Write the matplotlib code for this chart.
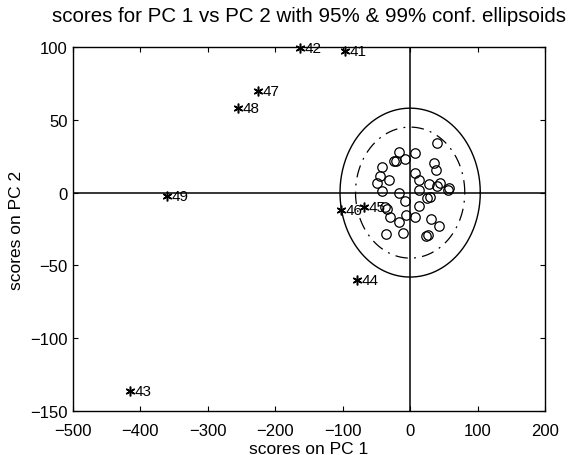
import numpy as np
import matplotlib.pyplot as plt

# PCA scores of the calibration samples (PC1, PC2)
pc1 = [39.5, -16.3, 7.4, -7.0, -23.7, -21.3, 35.6, -42.0, 38.5, 6.8,
       -44.5, -30.7, 12.8, -49.0, 27.6, 43.9, 39.5, 58.3, 56.3, -41.5,
       13.8, -16.9, 29.7, 24.6, -7.4, -37.7, -34.7, 13.8, -29.2, -6.5,
       7.9, 30.6, -15.9, 43.5, -36.2, -10.4, 23.7, 27.1]
pc2 = [34.0, 28.2, 27.3, 23.2, 22.0, 21.6, 20.4, 17.7, 15.8, 13.8,
       11.3, 8.5, 8.7, 6.9, 6.0, 6.9, 4.6, 3.2, 1.6, 1.2,
       1.6, -0.4, -3.2, -3.4, -5.5, -9.8, -11.4, -9.4, -16.7, -15.3,
       -16.5, -17.9, -20.4, -22.9, -28.6, -27.5, -30.0, -29.3]

# test samples projected onto the model
test_ids = ['41', '42', '43', '44', '45', '46', '47', '48', '49']
test_pc1 = [-96.4, -163.7, -416.0, -79.0, -68.8, -102.4, -225.4, -255.0, -361.0]
test_pc2 = [97.5, 99.5, -136.4, -60.0, -10.0, -12.1, 70.0, 57.8, -2.5]

# semi-axes of the confidence ellipses
ell95 = (81, 45)
ell99 = (104, 58)

plt.rcParams['font.family'] = ['Liberation Sans', 'DejaVu Sans']

fig = plt.figure(figsize=(5.72, 4.56), dpi=100)
ax = fig.add_axes([0.1276, 0.0965, 0.8252, 0.7982])

t = np.linspace(0, 2 * np.pi, 400)
ax.plot(ell99[0] * np.cos(t), ell99[1] * np.sin(t), color='black', lw=1.0)
ax.plot(ell95[0] * np.cos(t), ell95[1] * np.sin(t), color='black', lw=0.9,
        linestyle=(0, (10, 5, 1.5, 5)))

ax.axhline(0, color='black', lw=1.1)
ax.axvline(0, color='black', lw=1.1)

ax.plot(pc1, pc2, 'o', mfc='none', mec='black', ms=6.8, mew=0.9)
ax.plot(test_pc1, test_pc2, linestyle='none', marker=(6, 2, 0), color='black',
        ms=7, mew=1.1, clip_on=False)
for lbl, x, y in zip(test_ids, test_pc1, test_pc2):
    ax.annotate(lbl, (x, y), xytext=(3.5, 0), textcoords='offset points',
                ha='left', va='center', fontsize=11, annotation_clip=False)

ax.set_xlim(-500, 200)
ax.set_ylim(-150, 100)
ax.set_xticks(range(-500, 201, 100))
ax.set_yticks(range(-150, 101, 50))
ax.tick_params(direction='in', top=True, right=True, length=3.5, width=0.8,
               labelsize=12)
ax.tick_params(axis='x', pad=9)
ax.tick_params(axis='y', pad=4)
for s in ax.spines.values():
    s.set_linewidth(1.0)

ax.set_xlabel('scores on PC 1', fontsize=12.5, labelpad=2)
ax.set_ylabel('scores on PC 2', fontsize=12.5, labelpad=4)
ax.set_title('scores for PC 1 vs PC 2 with 95% & 99% conf. ellipsoids',
             fontsize=14.8, pad=19)

fig.savefig('out.png', dpi=100)
